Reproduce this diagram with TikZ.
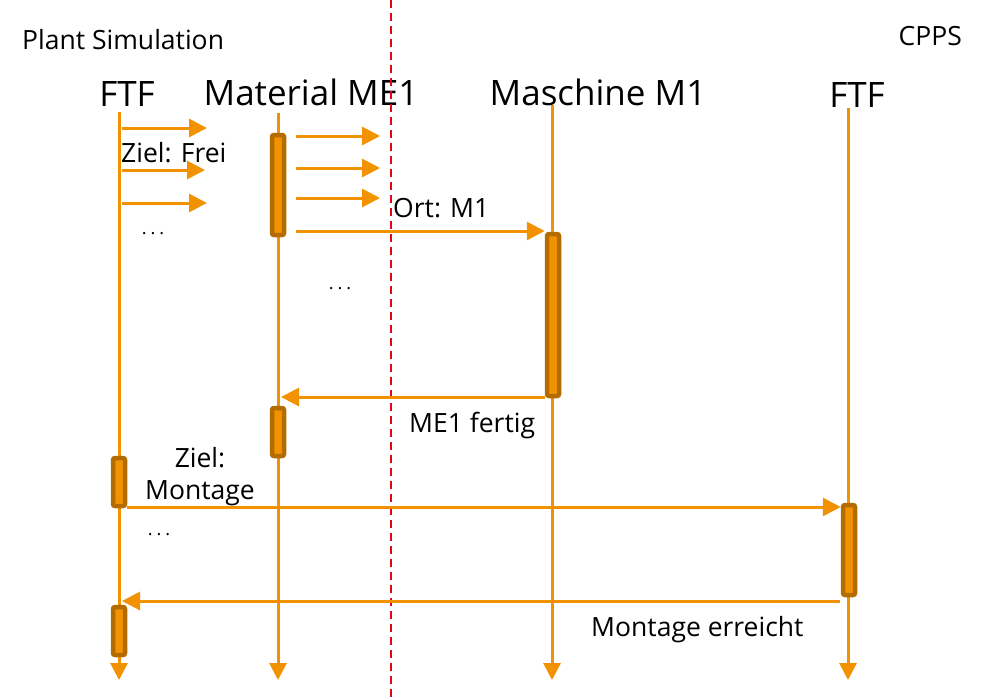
\documentclass[tikz,border=0pt]{standalone}
\usepackage{fontspec}
\setmainfont{Open Sans}
\usetikzlibrary{arrows.meta}
\definecolor{og}{HTML}{F39200}
\definecolor{ogd}{HTML}{B36C00}
\definecolor{rd}{HTML}{E30613}
\begin{document}
\begin{tikzpicture}[x=1pt,y=-1pt,
  life/.style={draw=og,line width=3pt,-{Triangle[length=17pt,width=17pt]}},
  msg/.style={draw=og,line width=3pt,-{Triangle[length=18pt,width=18pt]}},
  act/.style={draw=ogd,fill=og,line width=4.5pt,rounded corners=2pt,minimum width=12pt,inner sep=0pt},
  head/.style={font=\fontsize{35}{38}\selectfont,inner sep=0pt},
  lbl/.style={font=\fontsize{26.5}{32}\selectfont,inner sep=0pt,text=black},
  dots/.style={font=\fontsize{18}{20}\selectfont,inner sep=0pt}]
\useasboundingbox (0,0) rectangle (992,697);
% titles
\node[lbl,anchor=west] (ps) at (22,40) {Plant Simulation};
\node[lbl,anchor=east] (cpps) at (962,36) {CPPS};
\node[head] (h1) at (127,94) {FTF};
\node[head] (h2) at (311,92) {Material ME1};
\node[head] (h3) at (598,92) {Maschine M1};
\node[head] (h4) at (857,95) {FTF};
% red dashed
\coordinate (rt) at (391,0);
\coordinate (rb) at (391,697);
\draw[rd,line width=1.8pt,dash pattern=on 8pt off 5pt] (rt) -- (rb);
% lifelines
\coordinate (l1t) at (119,112); \coordinate (l1b) at (119,680);
\coordinate (l2t) at (278,113); \coordinate (l2b) at (278,680);
\coordinate (l3t) at (552,105); \coordinate (l3b) at (552,680);
\coordinate (l4t) at (848,108); \coordinate (l4b) at (848,680);
\draw[life] (l1t) -- (l1b);
\draw[life] (l2t) -- (l2b);
\draw[life] (l3t) -- (l3b);
\draw[life] (l4t) -- (l4b);
% activation boxes
\node[act,minimum height=100pt] (a2) at (278,185) {};
\node[act,minimum height=162pt] (a3) at (553,315) {};
\node[act,minimum height=48pt] (a2b) at (278,432) {};
\node[act,minimum height=48pt] (a1) at (119,482) {};
\node[act,minimum height=90pt] (a4) at (849,550) {};
\node[act,minimum height=48pt] (a1b) at (119,631) {};
% FTF short arrows
\coordinate (f1s) at (122,128); \coordinate (f1e) at (207,128);
\coordinate (f2s) at (122,170); \coordinate (f2e) at (205,170);
\coordinate (f3s) at (122,203); \coordinate (f3e) at (207,203);
\draw[msg] (f1s) -- (f1e);
\draw[msg] (f2s) -- (f2e);
\draw[msg] (f3s) -- (f3e);
\node[lbl,anchor=west] (zf) at (121,153) {Ziel: Frei};
\node[dots] (d1) at (153,234) {.\hspace{4pt}.\hspace{4pt}.};
% Material arrows
\coordinate (m1s) at (296,136); \coordinate (m1e) at (380,136);
\coordinate (m2s) at (296,168); \coordinate (m2e) at (380,168);
\coordinate (m3s) at (296,198); \coordinate (m3e) at (380,198);
\draw[msg] (m1s) -- (m1e);
\draw[msg] (m2s) -- (m2e);
\draw[msg] (m3s) -- (m3e);
\coordinate (m4s) at (296,231);
\draw[msg] (m4s) -- (a3.north west |- m4s);
\node[lbl,anchor=west] (ort) at (393,208) {Ort: M1};
\node[dots] (d2) at (340,289) {.\hspace{4pt}.\hspace{4pt}.};
% return ME1 fertig
\draw[msg] (a3.south west |- 0,397) -- (281,397);
\node[lbl,anchor=west] (fe) at (409,426) {ME1 fertig};
% Ziel Montage
\node[lbl,align=center] (zm) at (200,477) {Ziel:\\Montage};
\draw[msg] (a1.east |- 0,507) -- (a4.west |- 0,507);
\node[dots] (d3) at (159,535) {.\hspace{4pt}.\hspace{4pt}.};
% Montage erreicht
\draw[msg] (840,601) -- (122,601);
\node[lbl,anchor=west] (me) at (591,630) {Montage erreicht};
\end{tikzpicture}
\end{document}
